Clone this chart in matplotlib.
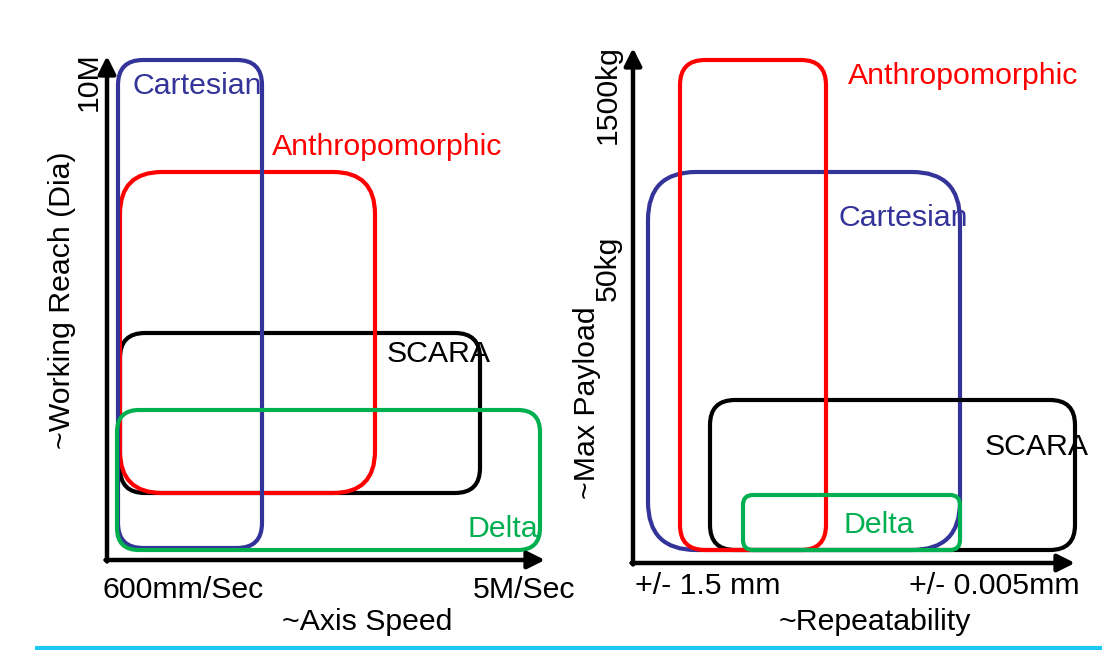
import matplotlib
matplotlib.use('Agg')
import matplotlib.pyplot as plt
from matplotlib.patches import FancyBboxPatch
plt.rcParams['font.family'] = ['Liberation Sans', 'DejaVu Sans']

# robot classes, each panel drawn in a pixel-like space (y grows downward)
robots = ['Cartesian', 'Anthropomorphic', 'SCARA', 'Delta']
colors = {'Cartesian': '#333399', 'Anthropomorphic': '#FF0000',
          'SCARA': '#000000', 'Delta': '#00B050'}

# left panel: ~Axis Speed vs ~Working Reach  (x0, x1, y_top, y_bottom, corner)
speed_x0 = [118, 120, 120, 117]
speed_x1 = [262, 375, 480, 540]
reach_top = [60, 172, 333, 410]
reach_bottom = [548, 493, 493, 550]
speed_round = [25, 42, 25, 22]
speed_order = ['SCARA', 'Anthropomorphic', 'Cartesian', 'Delta']
speed_label_pos = [(133, 86), (272, 147), (387, 354), (467, 529)]

# right panel: ~Repeatability vs ~Max Payload
rep_x0 = [648, 680, 710, 743]
rep_x1 = [960, 826, 1075, 960]
pay_top = [172, 60, 400, 495]
pay_bottom = [550, 550, 550, 550]
rep_round = [48, 25, 25, 10]
rep_order = ['Cartesian', 'SCARA', 'Anthropomorphic', 'Delta']
rep_label_pos = [(838, 218), (848, 76), (985, 447), (843, 525)]

FS = 21.8

fig = plt.figure(figsize=(11.02, 6.5), dpi=100)
ax = fig.add_axes([0, 0, 1, 1])
ax.set_xlim(0, 1102)
ax.set_ylim(650, 0)
ax.axis('off')


def draw_boxes(x0s, x1s, tops, bottoms, rads, order, label_pos):
    for name in order:
        i = robots.index(name)
        box = FancyBboxPatch((x0s[i], tops[i]), x1s[i] - x0s[i],
                             bottoms[i] - tops[i],
                             boxstyle='round,pad=0,rounding_size=%d' % rads[i],
                             fill=False, ec=colors[name], lw=3.0)
        ax.add_patch(box)
    for i, name in enumerate(robots):
        ax.text(label_pos[i][0], label_pos[i][1], name, color=colors[name],
                fontsize=FS, ha='left', va='center')


def draw_axes(ox, oy, x_tip, y_tip):
    arrow = dict(arrowstyle='-|>', lw=3.2, color='black',
                 mutation_scale=26, shrinkA=0, shrinkB=0)
    ax.annotate('', xy=(x_tip, oy), xytext=(ox - 1.5, oy), arrowprops=arrow)
    ax.annotate('', xy=(ox, y_tip), xytext=(ox, oy + 1.5), arrowprops=arrow)


# left panel
draw_boxes(speed_x0, speed_x1, reach_top, reach_bottom, speed_round,
           speed_order, speed_label_pos)
draw_axes(107, 560, 545, 56)
ax.text(89, 82, '10M', rotation=90, fontsize=FS, ha='center', va='center')
ax.text(62, 300, '~Working Reach (Dia)', rotation=90, fontsize=FS,
        ha='center', va='center')
ax.text(103, 590, '600mm/Sec', fontsize=FS, ha='left', va='center')
ax.text(575, 590, '5M/Sec', fontsize=FS, ha='right', va='center')
ax.text(367, 622, '~Axis Speed', fontsize=FS, ha='center', va='center')

# right panel
draw_boxes(rep_x0, rep_x1, pay_top, pay_bottom, rep_round,
           rep_order, rep_label_pos)
draw_axes(633, 563, 1075, 48)
ax.text(608, 95, '1500kg', rotation=90, fontsize=FS, ha='center', va='center')
ax.text(608, 268, '50kg', rotation=90, fontsize=FS, ha='center', va='center')
ax.text(587, 403, '~Max Payload', rotation=90, fontsize=FS,
        ha='center', va='center')
ax.text(635, 586, '+/- 1.5 mm', fontsize=FS, ha='left', va='center')
ax.text(1080, 586, '+/- 0.005mm', fontsize=FS, ha='right', va='center')
ax.text(875, 622, '~Repeatability', fontsize=FS, ha='center', va='center')

# slide divider line
ax.plot([35, 1102], [648, 648], color='#1EC8F5', lw=3, solid_capstyle='butt')

plt.savefig('out.png', dpi=100)
plt.close()
